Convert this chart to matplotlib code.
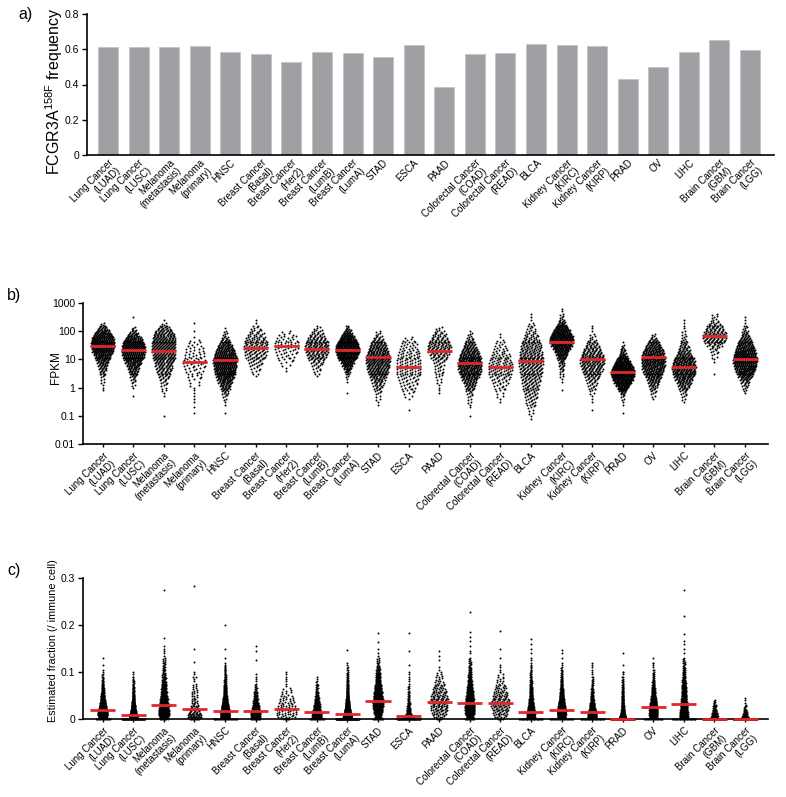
import numpy as np
import matplotlib
matplotlib.use("Agg")
import matplotlib.pyplot as plt

plt.rcParams['font.family'] = ['Liberation Sans', 'DejaVu Sans']

# ---------------- data ----------------
categories = ["Lung Cancer\n(LUAD)", "Lung Cancer\n(LUSC)", "Melanoma\n(metastasis)", "Melanoma\n(primary)",
              "HNSC", "Breast Cancer\n(Basal)", "Breast Cancer\n(Her2)", "Breast Cancer\n(LumB)",
              "Breast Cancer\n(LumA)", "STAD", "ESCA", "PAAD", "Colorectal Cancer\n(COAD)",
              "Colorectal Cancer\n(READ)", "BLCA", "Kidney Cancer\n(KIRC)", "Kidney Cancer\n(KIRP)",
              "PRAD", "OV", "LIHC", "Brain Cancer\n(GBM)", "Brain Cancer\n(LGG)"]

# a) FCGR3A 158F allele frequency
freq = [0.611, 0.615, 0.613, 0.617, 0.585, 0.574, 0.526, 0.587, 0.579, 0.558, 0.623,
        0.385, 0.574, 0.581, 0.632, 0.623, 0.617, 0.434, 0.498, 0.585, 0.651, 0.598]

# b) FPKM: medians, and counts per 0.1-decade bin starting at log10 value fpkm_lo
fpkm_median = [29, 21, 20, 7.8, 9.7, 25, 30, 24, 21, 11.8, 5.6,
               20, 7.4, 5.2, 8.5, 41, 10, 3.6, 12.4, 5.5, 68, 10]
fpkm_lo = [-0.1, -0.3, -1.0, -0.9, -0.9, 0.4, 0.6, 0.4, -0.2, -0.6, -0.8,
           -0.2, -1.0, -0.5, -1.1, -0.1, -0.8, -0.9, -0.4, -0.5, 0.5, -0.2]
fpkm_counts = [
    [1, 1, 1, 2, 2, 3, 5, 6, 8, 11, 14, 18, 22, 27, 32, 36, 38, 38, 36, 32, 26, 18, 10, 5, 2],
    [1, 0, 0, 1, 2, 3, 4, 6, 8, 11, 14, 18, 22, 27, 32, 35, 37, 36, 34, 31, 27, 20, 12, 6, 3, 0, 0, 0, 1],
    [1, 0, 0, 0, 0, 0, 0, 1, 1, 2, 2, 3, 4, 6, 8, 10, 12, 14, 16, 18, 20, 22, 23, 24, 24, 24, 24, 23, 22, 20, 16, 10, 5, 2, 1],
    [1, 0, 1, 0, 1, 1, 1, 1, 1, 1, 2, 2, 3, 4, 4, 5, 6, 7, 8, 7, 6, 6, 5, 5, 4, 3, 2, 1, 0, 1, 0, 0, 1],
    [1, 0, 0, 1, 1, 2, 3, 5, 7, 10, 13, 17, 21, 25, 28, 31, 33, 35, 36, 36, 34, 31, 27, 22, 17, 12, 8, 5, 3, 2, 1],
    [1, 2, 3, 4, 6, 7, 9, 11, 13, 14, 15, 15, 14, 13, 11, 9, 6, 4, 2, 1, 1],
    [1, 1, 2, 3, 4, 5, 6, 7, 8, 8, 8, 7, 6, 4, 2],
    [1, 2, 3, 4, 6, 8, 11, 14, 17, 19, 20, 20, 18, 16, 13, 9, 6, 3, 1],
    [1, 0, 0, 0, 1, 1, 2, 4, 7, 11, 16, 22, 30, 38, 45, 50, 50, 46, 40, 32, 24, 16, 9, 4, 2],
    [1, 1, 2, 2, 3, 4, 6, 8, 10, 13, 16, 19, 22, 24, 26, 27, 27, 26, 25, 23, 20, 17, 13, 9, 6, 3, 2],
    [1, 0, 0, 0, 1, 2, 3, 4, 5, 6, 7, 8, 9, 10, 10, 10, 10, 10, 10, 9, 9, 8, 7, 6, 5, 4, 2],
    [1, 1, 1, 1, 2, 2, 3, 3, 4, 4, 5, 6, 8, 11, 14, 17, 18, 17, 15, 13, 10, 8, 5, 3],
    [1, 0, 0, 1, 1, 2, 2, 3, 4, 6, 8, 11, 14, 18, 22, 26, 29, 31, 32, 32, 30, 27, 24, 20, 16, 12, 9, 6, 4, 3, 1],
    [1, 1, 2, 2, 3, 4, 5, 7, 8, 10, 11, 12, 12, 12, 11, 10, 9, 8, 6, 5, 4, 3, 2, 1, 1],
    [1, 1, 2, 2, 3, 4, 5, 6, 7, 8, 9, 10, 11, 12, 13, 14, 15, 16, 17, 18, 18, 18, 17, 17, 16, 15, 14, 13, 11, 9, 7, 5, 4, 3, 2, 1, 1, 1],
    [1, 0, 0, 1, 1, 2, 2, 3, 4, 5, 7, 9, 12, 17, 24, 32, 40, 46, 48, 45, 38, 30, 22, 15, 9, 5, 3, 2, 1, 1],
    [1, 0, 0, 1, 1, 1, 2, 3, 4, 5, 7, 9, 11, 14, 17, 19, 21, 22, 22, 21, 19, 16, 13, 10, 7, 5, 3, 2, 1, 1, 1],
    [1, 0, 0, 1, 1, 2, 3, 6, 11, 18, 27, 37, 46, 53, 56, 54, 48, 40, 31, 22, 15, 9, 6, 4, 2, 1],
    [1, 2, 3, 4, 6, 9, 12, 15, 19, 23, 27, 30, 32, 33, 33, 32, 30, 27, 22, 17, 12, 8, 4, 2],
    [1, 2, 3, 4, 6, 9, 12, 16, 20, 24, 27, 29, 30, 29, 27, 24, 20, 16, 12, 9, 7, 5, 4, 3, 2, 2, 1, 1, 1, 1],
    [1, 0, 0, 0, 1, 1, 2, 3, 4, 6, 10, 14, 17, 19, 18, 16, 13, 10, 7, 4, 3, 2],
    [1, 2, 3, 5, 8, 12, 17, 22, 27, 31, 34, 36, 36, 35, 33, 30, 26, 22, 18, 14, 10, 7, 5, 3, 2, 1, 1, 1],
]

# c) estimated fraction: medians, counts per 0.005 bin starting at 0, and single high values
frac_median = [0.019, 0.0085, 0.030, 0.021, 0.017, 0.018, 0.022, 0.015, 0.011, 0.039, 0.0065,
               0.037, 0.033, 0.034, 0.0156, 0.020, 0.014, 0.0, 0.025, 0.032, 0.0, 0.0]
frac_counts = [
    [15, 55, 70, 65, 55, 45, 36, 29, 23, 19, 15, 12, 10, 8, 6, 5, 4, 3, 2, 2, 1, 1, 0, 1, 0, 0, 1],
    [60, 95, 75, 55, 40, 30, 23, 18, 14, 11, 9, 7, 6, 5, 4, 3, 3, 2, 2, 1, 1],
    [8, 22, 28, 28, 26, 24, 22, 20, 18, 16, 14, 12, 11, 10, 9, 8, 7, 6, 5, 5, 4, 4, 3, 3, 3, 2, 2, 1, 1, 1, 1],
    [10, 14, 13, 10, 8, 6, 5, 4, 4, 3, 3, 3, 3, 2, 2, 2, 1, 1, 2, 1, 1],
    [25, 60, 65, 60, 52, 44, 37, 30, 25, 20, 16, 13, 11, 9, 8, 7, 6, 5, 4, 4, 3, 3, 2, 2, 1],
    [10, 22, 24, 22, 19, 16, 13, 11, 9, 7, 6, 5, 4, 3, 2, 2, 1, 1, 1, 1],
    [6, 7, 8, 8, 8, 7, 7, 6, 5, 5, 4, 3, 3, 2, 1, 1, 1, 1, 1, 1, 1],
    [15, 30, 30, 26, 22, 18, 15, 12, 10, 8, 6, 5, 4, 3, 3, 2, 2, 1, 1],
    [80, 105, 85, 65, 50, 38, 30, 24, 19, 15, 12, 10, 8, 7, 6, 5, 4, 4, 3, 3, 2, 2, 2, 1, 1],
    [10, 13, 17, 21, 25, 27, 28, 28, 27, 25, 23, 21, 19, 17, 15, 13, 11, 10, 9, 8, 7, 6, 5, 4, 3, 2, 2, 1, 1],
    [50, 40, 18, 12, 9, 7, 6, 5, 4, 4, 3, 3, 2, 2, 2, 1, 1, 1, 1, 1, 1],
    [5, 6, 8, 9, 10, 11, 11, 12, 12, 11, 10, 9, 8, 7, 6, 5, 4, 3, 3, 2, 2, 1, 1],
    [10, 20, 26, 30, 32, 32, 31, 29, 27, 24, 21, 19, 17, 15, 13, 11, 9, 8, 7, 6, 5, 4, 4, 3, 3, 2, 2],
    [5, 6, 8, 9, 10, 11, 12, 12, 11, 10, 9, 8, 7, 6, 5, 4, 3, 3, 2, 2, 1, 1, 1, 1],
    [30, 50, 50, 45, 38, 32, 27, 22, 18, 15, 12, 10, 9, 8, 7, 6, 5, 4, 4, 3, 3, 2, 2, 2, 1, 1, 1],
    [25, 50, 60, 60, 55, 48, 40, 33, 27, 22, 18, 15, 12, 10, 8, 7, 6, 5, 4, 3, 3, 2, 2, 1, 1],
    [30, 45, 40, 33, 27, 22, 18, 14, 11, 9, 7, 6, 5, 4, 3, 3, 2, 2, 2, 1, 1, 1, 1, 1, 1],
    [260, 60, 35, 25, 20, 16, 13, 11, 9, 8, 7, 6, 5, 4, 4, 3, 3, 2, 2, 1, 1],
    [20, 30, 34, 35, 34, 32, 28, 24, 20, 17, 14, 12, 10, 8, 7, 6, 5, 4, 3, 3, 2, 2, 1, 1, 1],
    [30, 28, 27, 26, 24, 22, 20, 18, 16, 15, 14, 13, 12, 11, 10, 9, 8, 7, 6, 5, 5, 4, 4, 3, 3, 2, 2],
    [100, 15, 12, 10, 8, 6, 5, 3, 2],
    [420, 20, 12, 8, 5, 3, 2, 1, 1, 1],
]
frac_high = [[], [], [0.155, 0.172, 0.275], [0.122, 0.15, 0.284], [0.13, 0.148, 0.2],
             [0.125, 0.145, 0.155], [], [], [0.147], [0.15, 0.163, 0.182], [0.115, 0.144, 0.184],
             [0.125, 0.135, 0.145], [0.14, 0.145, 0.155, 0.165, 0.175, 0.185, 0.228],
             [0.13, 0.15, 0.187], [0.14, 0.15, 0.16, 0.17], [0.13, 0.14, 0.147], [],
             [0.1, 0.115, 0.14], [0.12, 0.13], [0.14, 0.15, 0.16, 0.165, 0.18, 0.22, 0.275], [], []]

# ---------------- style ----------------
BAR = '#a0a0a4'
RED = '#e3262b'
XTICKFS = 7.0
YTICKFS = 7.5
swarm_w_b = 0.76
swarm_w_c = [0.3, 0.24, 0.34, 0.45, 0.28, 0.3, 0.62, 0.3, 0.26, 0.32, 0.3,
             0.58, 0.3, 0.58, 0.24, 0.26, 0.28, 0.18, 0.26, 0.26, 0.2, 0.2]
DOT = 2.0

fig = plt.figure(figsize=(7.86, 7.97), dpi=100)
W, H = 786.0, 797.0


def ax_at(l, t, r, b):
    return fig.add_axes([l / W, 1 - b / H, (r - l) / W, (b - t) / H])


def style(ax, xlen):
    for s in ('top', 'right'):
        ax.spines[s].set_visible(False)
    for s in ('left', 'bottom'):
        ax.spines[s].set_linewidth(1.2)
    ax.tick_params(axis='y', length=3.5, width=1.0, labelsize=YTICKFS, pad=2)
    ax.tick_params(axis='x', length=xlen, width=1.0, labelsize=XTICKFS, pad=2.0)


def set_xlabels(ax, x):
    ax.set_xticks(x)
    ax.set_xticklabels(categories, rotation=45, ha='right', va='top', rotation_mode='anchor',
                       linespacing=1.05)


def swarm_offsets(n, w):
    if n == 1:
        return np.array([0.0]), np.array([0.0])
    off = np.linspace(-w / 2, w / 2, n)
    sub = (np.arange(n) % 3) - 1.0   # three staggered sub-rows within a bin
    return off, sub


x = np.arange(len(categories))

# ---- a) ----
axa = ax_at(87, 14, 774, 155)
axa.bar(x, freq, width=0.65, color=BAR, edgecolor='#c4c4c6', linewidth=0.6)
axa.set_xlim(-0.687, 21.785)
axa.set_ylim(0, 0.8)
axa.set_yticks([0, 0.2, 0.4, 0.6, 0.8])
axa.set_yticklabels(['0', '0.2', '0.4', '0.6', '0.8'])
style(axa, 0)
set_xlabels(axa, x)
fig.text(54 / W, 1 - 91 / H, r'FCGR3A$^{\mathregular{158F}}$ frequency', rotation=90,
         ha='center', va='center', fontsize=11.5)
fig.text(18 / W, 1 - 7 / H, 'a)', fontsize=11.5, ha='left', va='top')

# ---- b) ----
axb = ax_at(83, 303, 768, 444)
xs, ys = [], []
for i, (lo, cnts) in enumerate(zip(fpkm_lo, fpkm_counts)):
    nmax = max(cnts)
    for k, n in enumerate(cnts):
        if n == 0:
            continue
        w = swarm_w_b * (n / nmax) ** 0.75
        off, sub = swarm_offsets(n, w)
        xs.extend(i + off)
        ys.extend(10 ** (lo + 0.1 * k + 0.033 * sub))
axb.scatter(xs, ys, s=DOT, c='black', marker='o', linewidths=0, zorder=2)
axb.hlines(fpkm_median, x - 0.41, x + 0.41, colors=RED, linewidth=2.0, zorder=3)
axb.set_yscale('log')
axb.set_ylim(0.01, 1000)
axb.set_xlim(-0.644, 21.75)
axb.set_yticks([0.01, 0.1, 1, 10, 100, 1000])
axb.set_yticklabels(['0.01', '0.1', '1', '10', '100', '1000'])
axb.yaxis.set_minor_locator(matplotlib.ticker.NullLocator())
style(axb, 2.5)
set_xlabels(axb, x)
fig.text(56 / W, 1 - 368 / H, 'FPKM', rotation=90, ha='center', va='center', fontsize=8.5)
fig.text(7 / W, 1 - 288 / H, 'b)', fontsize=11.5, ha='left', va='top')

# ---- c) ----
axc = ax_at(83, 578, 768, 719)
xs, ys = [], []
for i, cnts in enumerate(frac_counts):
    nmax = max(cnts[1:])
    for k, n in enumerate(cnts):
        if n == 0:
            continue
        if k == 0:
            w = min(0.75, 0.03 * n)
            off, sub = swarm_offsets(n, w)
            sub = np.zeros_like(off)
        else:
            w = swarm_w_c[i] * (n / nmax) ** 0.75
            off, sub = swarm_offsets(n, w)
        xs.extend(i + off)
        ys.extend(0.005 * k + 0.0016 * sub)
    for v in frac_high[i]:
        xs.append(i)
        ys.append(v)
axc.scatter(xs, ys, s=DOT, c='black', marker='o', linewidths=0, zorder=2, clip_on=False)
axc.hlines(frac_median, x - 0.41, x + 0.41, colors=RED, linewidth=2.0, zorder=3, clip_on=False)
axc.set_ylim(0, 0.3)
axc.set_xlim(-0.644, 21.75)
axc.set_yticks([0, 0.1, 0.2, 0.3])
axc.set_yticklabels(['0', '0.1', '0.2', '0.3'])
style(axc, 2.5)
set_xlabels(axc, x)
fig.text(53 / W, 1 - 641 / H, 'Estimated fraction (/ immune cell)', rotation=90,
         ha='center', va='center', fontsize=7.8)
fig.text(7 / W, 1 - 563 / H, 'c)', fontsize=11.5, ha='left', va='top')

fig.savefig('out.png', dpi=100)
